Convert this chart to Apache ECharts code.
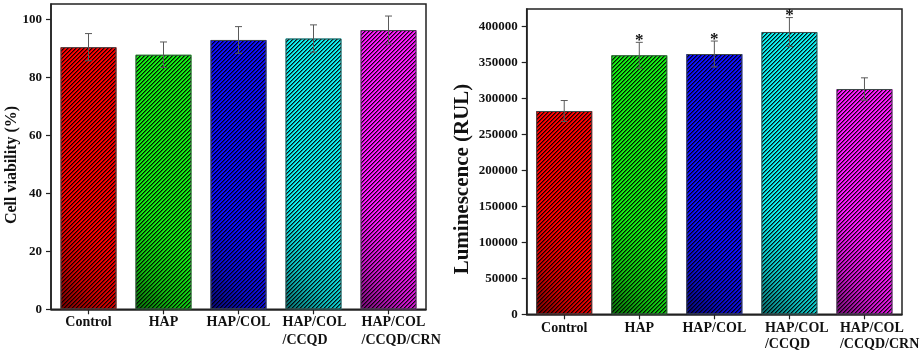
<!DOCTYPE html>
<html><head><meta charset="utf-8">
<script src="https://cdn.jsdelivr.net/npm/echarts@6/dist/echarts.min.js"></script>
<style>html,body{margin:0;padding:0;background:#fff}#c{width:920px;height:356px}</style>
</head><body><div id="c"></div>
<script>
// ---- data ----
const categories = ['Control', 'HAP', 'HAP/COL', 'HAP/COL\n/CCQD', 'HAP/COL\n/CCQD/CRN'];
const viability = [90.4, 87.8, 92.9, 93.4, 96.3];
const viabilityErr = [4.7, 4.4, 4.6, 4.7, 4.85];
const luminescence = [282400, 359700, 361500, 392100, 312900];
const luminescenceErr = [14500, 18000, 18000, 20000, 15500];
const significance = ['', '*', '*', '*', ''];
const viabilityTicks = [0, 20, 40, 60, 80, 100];
const luminescenceTicks = [0, 50000, 100000, 150000, 200000, 250000, 300000, 350000, 400000];
const barColors = ['#ff0000', '#14f014', '#1010ff', '#10f0f0', '#ff18ff'];

// ---- styling helpers ----
const FONT = '"Liberation Serif", "Times New Roman", serif';
function shade(hex, f) {
  const n = parseInt(hex.slice(1), 16);
  const r = Math.round(((n >> 16) & 255) * f), g = Math.round(((n >> 8) & 255) * f), b = Math.round((n & 255) * f);
  return 'rgb(' + r + ',' + g + ',' + b + ')';
}
function barFill(hex) {
  return new echarts.graphic.LinearGradient(0, 1, 1, 0.8, [
    { offset: 0, color: shade(hex, 0.45) },
    { offset: 0.45, color: shade(hex, 0.8) },
    { offset: 1, color: hex }
  ]);
}
// diagonal "/" hatch tile
function hatchTile() {
  const c = document.createElement('canvas');
  c.width = 4; c.height = 4;
  const ctx = c.getContext('2d');
  const img = ctx.createImageData(4, 4);
  for (let y = 0; y < 4; y++) {
    for (let x = 0; x < 4; x++) {
      const d = (x + y) % 4;
      const a = d === 3 ? 235 : (d === 0 ? 120 : 0);
      const k = (y * 4 + x) * 4;
      img.data[k] = 0; img.data[k + 1] = 0; img.data[k + 2] = 0; img.data[k + 3] = a;
    }
  }
  ctx.putImageData(img, 0, 0);
  return c;
}
const hatch = { image: hatchTile(), repeat: 'repeat' };

function barData(vals) {
  return vals.map((v, i) => ({ value: v, itemStyle: { color: barFill(barColors[i]) } }));
}
function errData(vals, errs) {
  return vals.map((v, i) => [i, v - errs[i], v + errs[i]]);
}
function labelItems(shifts) {
  return categories.map((c, i) => shifts[i] == null ? c :
    { value: c, textStyle: { align: 'left', padding: [0, 0, 0, shifts[i]] } });
}
function errRender(withStars) {
  return function (params, api) {
    const idx = params.dataIndex;
    const x = api.value(0);
    const lo = api.coord([x, api.value(1)]);
    const hi = api.coord([x, api.value(2)]);
    const hw = 3.5;
    const st = { stroke: '#5a5a5a', lineWidth: 1 };
    const ch = [
      { type: 'line', shape: { x1: hi[0], y1: hi[1], x2: lo[0], y2: lo[1] }, style: st },
      { type: 'line', shape: { x1: hi[0] - hw, y1: hi[1], x2: hi[0] + hw, y2: hi[1] }, style: st },
      { type: 'line', shape: { x1: lo[0] - hw, y1: lo[1], x2: lo[0] + hw, y2: lo[1] }, style: st }
    ];
    if (withStars && significance[idx]) {
      ch.push({ type: 'text', x: hi[0], y: hi[1] - 1.5,
        style: { text: significance[idx], fontFamily: FONT, fontWeight: 'bold', fontSize: 17,
          fill: '#111', align: 'center', verticalAlign: 'middle' } });
    }
    return { type: 'group', children: ch };
  };
}
const axisLineStyle = { color: '#222', width: 1.5 };
function yAxisCfg(gi, max, ticks) {
  return {
    type: 'value', gridIndex: gi, min: 0, max: max,
    axisLine: { show: true, lineStyle: axisLineStyle },
    axisTick: { show: true, length: 5, customValues: ticks, lineStyle: { color: '#222', width: 1.2 } },
    axisLabel: { customValues: ticks, margin: 9, fontFamily: FONT, fontWeight: 'bold', fontSize: 13, color: '#111',
      formatter: v => String(v) },
    splitLine: { show: false }
  };
}
function xAxisCfg(gi, shifts, margin, lh) {
  return {
    type: 'category', gridIndex: gi, data: labelItems(shifts),
    axisLine: { show: true, lineStyle: axisLineStyle },
    axisTick: { show: true, alignWithLabel: true, length: 5, lineStyle: { color: '#222', width: 1.2 } },
    axisLabel: { interval: 0, margin: margin, fontFamily: FONT, fontWeight: 'bold', fontSize: 14,
      lineHeight: lh, color: '#111' },
    splitLine: { show: false }
  };
}
function barPair(gi, vals) {
  return [
    { type: 'bar', xAxisIndex: gi, yAxisIndex: gi, barWidth: 56, data: barData(vals), z: 2 },
    { type: 'bar', xAxisIndex: gi, yAxisIndex: gi, barWidth: 56, barGap: '-100%', data: vals.slice(), z: 3,
      itemStyle: { color: hatch, borderColor: '#3c4646', borderWidth: 1 } }
  ];
}

const chart = echarts.init(document.getElementById('c'), null, { renderer: 'canvas' });
chart.setOption({
  animation: false,
  backgroundColor: '#fff',
  grid: [
    { left: 51, top: 4, width: 375, height: 305.3, show: true, borderColor: '#222', borderWidth: 1.5, outerBoundsMode: 'none' },
    { left: 526.7, top: 9, width: 375.3, height: 305.3, show: true, borderColor: '#222', borderWidth: 1.5, outerBoundsMode: 'none' }
  ],
  xAxis: [
    xAxisCfg(0, [null, null, null, -31, -27], 4, 18),
    xAxisCfg(1, [null, null, null, -24.5, -24.5], 6, 16)
  ],
  yAxis: [
    yAxisCfg(0, 105.3, viabilityTicks),
    yAxisCfg(1, 424000, luminescenceTicks)
  ],
  graphic: [
    { type: 'text', x: 12, y: 165, rotation: Math.PI / 2,
      style: { text: 'Cell viability (%)', fontFamily: FONT, fontWeight: 'bold', fontSize: 16, fill: '#111',
        align: 'center', verticalAlign: 'middle' } },
    { type: 'text', x: 463, y: 179, rotation: Math.PI / 2,
      style: { text: 'Luminescence (RUL)', fontFamily: FONT, fontWeight: 'bold', fontSize: 21, fill: '#111',
        align: 'center', verticalAlign: 'middle' } }
  ],
  series: [
    ...barPair(0, viability),
    { type: 'custom', xAxisIndex: 0, yAxisIndex: 0, data: errData(viability, viabilityErr),
      encode: { x: 0, y: [1, 2] }, renderItem: errRender(false), z: 5 },
    ...barPair(1, luminescence),
    { type: 'custom', xAxisIndex: 1, yAxisIndex: 1, data: errData(luminescence, luminescenceErr),
      encode: { x: 0, y: [1, 2] }, renderItem: errRender(true), z: 5 }
  ]
});
</script>
</body></html>
